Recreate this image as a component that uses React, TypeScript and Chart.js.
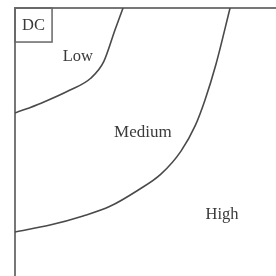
import React, { useEffect, useRef } from "react";
import { Chart, registerables } from "chart.js";

Chart.register(...registerables);

// Boundary between "Low" and "Medium" (x, y in arbitrary 0–10 units)
const lowMediumX = [0, 1.0, 2.11, 2.9, 3.4, 3.83, 4.14];
const lowMediumY = [6.08, 6.45, 6.94, 7.38, 8.0, 9.18, 10];

// Boundary between "Medium" and "High"
const mediumHighX = [0, 1.34, 2.61, 3.64, 4.71, 5.59, 6.36, 6.9, 7.28, 7.7, 8.24];
const mediumHighY = [1.64, 1.9, 2.24, 2.6, 3.2, 3.8, 4.66, 5.6, 6.57, 7.9, 10];

// Region labels and their positions (same units)
const regionLabels = ["Low", "Medium", "High"];
const regionLabelX = [2.41, 4.9, 7.93];
const regionLabelY = [8.17, 5.34, 2.28];

// Corner tag
const cornerLabel = "DC";
const cornerBoxX = [0, 1.42];
const cornerBoxY = [8.73, 10];

const toPoints = (xs: number[], ys: number[]) => xs.map((x, i) => ({ x, y: ys[i] }));

const labelPlugin = {
  id: "regionLabels",
  afterDatasetsDraw(chart: any) {
    const { ctx, scales } = chart;
    const xs = scales.x;
    const ys = scales.y;
    ctx.save();
    ctx.fillStyle = "#3a3a3a";
    ctx.textAlign = "center";
    ctx.textBaseline = "middle";
    regionLabels.forEach((t, i) => {
      ctx.font = (t === "Medium" ? "17px" : "16.5px") + " 'Liberation Serif', 'Times New Roman', serif";
      ctx.fillText(t, xs.getPixelForValue(regionLabelX[i]), ys.getPixelForValue(regionLabelY[i]));
    });
    // corner box
    const x0 = xs.getPixelForValue(cornerBoxX[0]);
    const x1 = xs.getPixelForValue(cornerBoxX[1]);
    const y0 = ys.getPixelForValue(cornerBoxY[1]);
    const y1 = ys.getPixelForValue(cornerBoxY[0]);
    ctx.strokeStyle = "#666";
    ctx.lineWidth = 1.5;
    ctx.strokeRect(x0, y0, x1 - x0, y1 - y0);
    ctx.font = "16.5px 'Liberation Serif', 'Times New Roman', serif";
    ctx.fillText(cornerLabel, (x0 + x1) / 2, (y0 + y1) / 2 + 1);
    ctx.restore();
  },
};

export default function App() {
  const ref = useRef<HTMLCanvasElement>(null);
  useEffect(() => {
    document.body.style.margin = "0";
    const chart = new Chart(ref.current!, {
      type: "scatter",
      data: {
        datasets: [
          {
            data: toPoints(lowMediumX, lowMediumY),
            showLine: true,
            borderColor: "#4a4a4a",
            borderWidth: 1.6,
            pointRadius: 0,
            cubicInterpolationMode: "monotone",
          },
          {
            data: toPoints(mediumHighX, mediumHighY),
            showLine: true,
            borderColor: "#4a4a4a",
            borderWidth: 1.6,
            pointRadius: 0,
            cubicInterpolationMode: "monotone",
          },
        ],
      },
      options: {
        animation: false,
        responsive: false,
        layout: { padding: { left: 15, top: 8, right: 0, bottom: 0 } },
        plugins: { legend: { display: false }, tooltip: { enabled: false } },
        scales: {
          x: {
            type: "linear",
            position: "top",
            min: 0,
            max: 10,
            ticks: { display: false },
            grid: { display: false, drawTicks: false },
            border: { display: true, color: "#777", width: 2 },
          },
          y: {
            type: "linear",
            position: "left",
            min: 0,
            max: 10,
            ticks: { display: false },
            grid: { display: false, drawTicks: false },
            border: { display: true, color: "#777", width: 2 },
          },
        },
      },
      plugins: [labelPlugin],
    });
    return () => chart.destroy();
  }, []);
  return <canvas ref={ref} width={276} height={276} style={{ display: "block" }} />;
}
